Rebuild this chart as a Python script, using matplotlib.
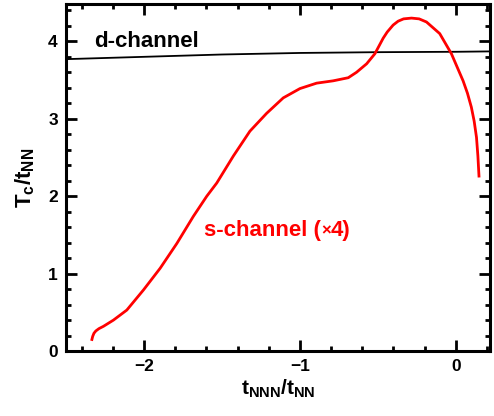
import matplotlib.pyplot as plt
from matplotlib.ticker import MultipleLocator

plt.rcParams["font.family"] = ["Liberation Sans", "DejaVu Sans"]
plt.rcParams["font.weight"] = "bold"
plt.rcParams["mathtext.fontset"] = "custom"
plt.rcParams["mathtext.rm"] = "Liberation Sans:bold"
plt.rcParams["mathtext.it"] = "Liberation Sans:bold"
plt.rcParams["mathtext.bf"] = "Liberation Sans:bold"

# d-channel (black)
d_x = [-2.5, -2.0, -1.5, -1.0, -0.5, 0.0, 0.22]
d_y = [3.77, 3.80, 3.83, 3.85, 3.86, 3.865, 3.87]

# s-channel x4 (red)
s_x = [-2.335, -2.33, -2.322, -2.31, -2.29, -2.261, -2.197, -2.111,
       -2.004, -1.897, -1.79, -1.684, -1.598, -1.534, -1.427, -1.321,
       -1.214, -1.107, -1.0, -0.893, -0.787, -0.69, -0.637, -0.572,
       -0.519, -0.466, -0.44, -0.402, -0.37, -0.335, -0.284, -0.235,
       -0.188, -0.103, -0.028, 0.047, 0.075, 0.10, 0.118, 0.133, 0.142,
       0.149]
s_y = [0.15, 0.19, 0.23, 0.26, 0.29, 0.32, 0.40, 0.53,
       0.79, 1.07, 1.39, 1.74, 2.00, 2.17, 2.52, 2.84,
       3.07, 3.27, 3.39, 3.46, 3.49, 3.53, 3.60, 3.71,
       3.84, 4.04, 4.12, 4.21, 4.26, 4.29, 4.30, 4.29,
       4.25, 4.10, 3.84, 3.49, 3.33, 3.15, 2.97, 2.76, 2.52,
       2.26]

fig = plt.figure(figsize=(4.94, 4.16), dpi=100)
ax = fig.add_axes([0.134, 0.156, 0.858, 0.834])

ax.plot(d_x, d_y, color="black", linewidth=1.3)
ax.plot(s_x, s_y, color="#ff0000", linewidth=2.0, solid_joinstyle="round")

ax.text(-2.32, 4.0, "d-channel", fontsize=16, fontweight="bold",
        color="black", va="center", ha="left")

# "s-channel (x4)" with a smaller multiplication sign
red = "#ff0000"
parts = [("s-channel (", 16), ("\u00d7", 12), ("4)", 16)]
fig.canvas.draw()
renderer = fig.canvas.get_renderer()
x0, y0 = ax.transData.transform((-1.66, 1.53))
for s, size in parts:
    t = ax.text(x0, y0, s, fontsize=size, fontweight="bold", color=red,
                va="center", ha="left", transform=None)
    x0 = t.get_window_extent(renderer).x1

ax.set_xlim(-2.5, 0.22)
ax.set_ylim(0, 4.48)
ax.xaxis.set_major_locator(MultipleLocator(1))
ax.xaxis.set_minor_locator(MultipleLocator(0.2))
ax.yaxis.set_major_locator(MultipleLocator(1))
ax.yaxis.set_minor_locator(MultipleLocator(0.2))

ax.tick_params(which="both", direction="in", top=True, right=True, width=2.0)
ax.tick_params(which="major", length=8, labelsize=12.5, pad=6)
ax.tick_params(which="minor", length=3.5)
for lab in ax.get_xticklabels() + ax.get_yticklabels():
    lab.set_fontweight("bold")
for sp in ax.spines.values():
    sp.set_linewidth(2.2)

ax.set_xlabel(r"$\mathbf{t_{NNN}/t_{NN}}$", fontsize=15, labelpad=2)
ax.set_ylabel(r"$\mathbf{T_c/t_{NN}}$", fontsize=16, labelpad=8)

fig.savefig("out.png", dpi=100)
